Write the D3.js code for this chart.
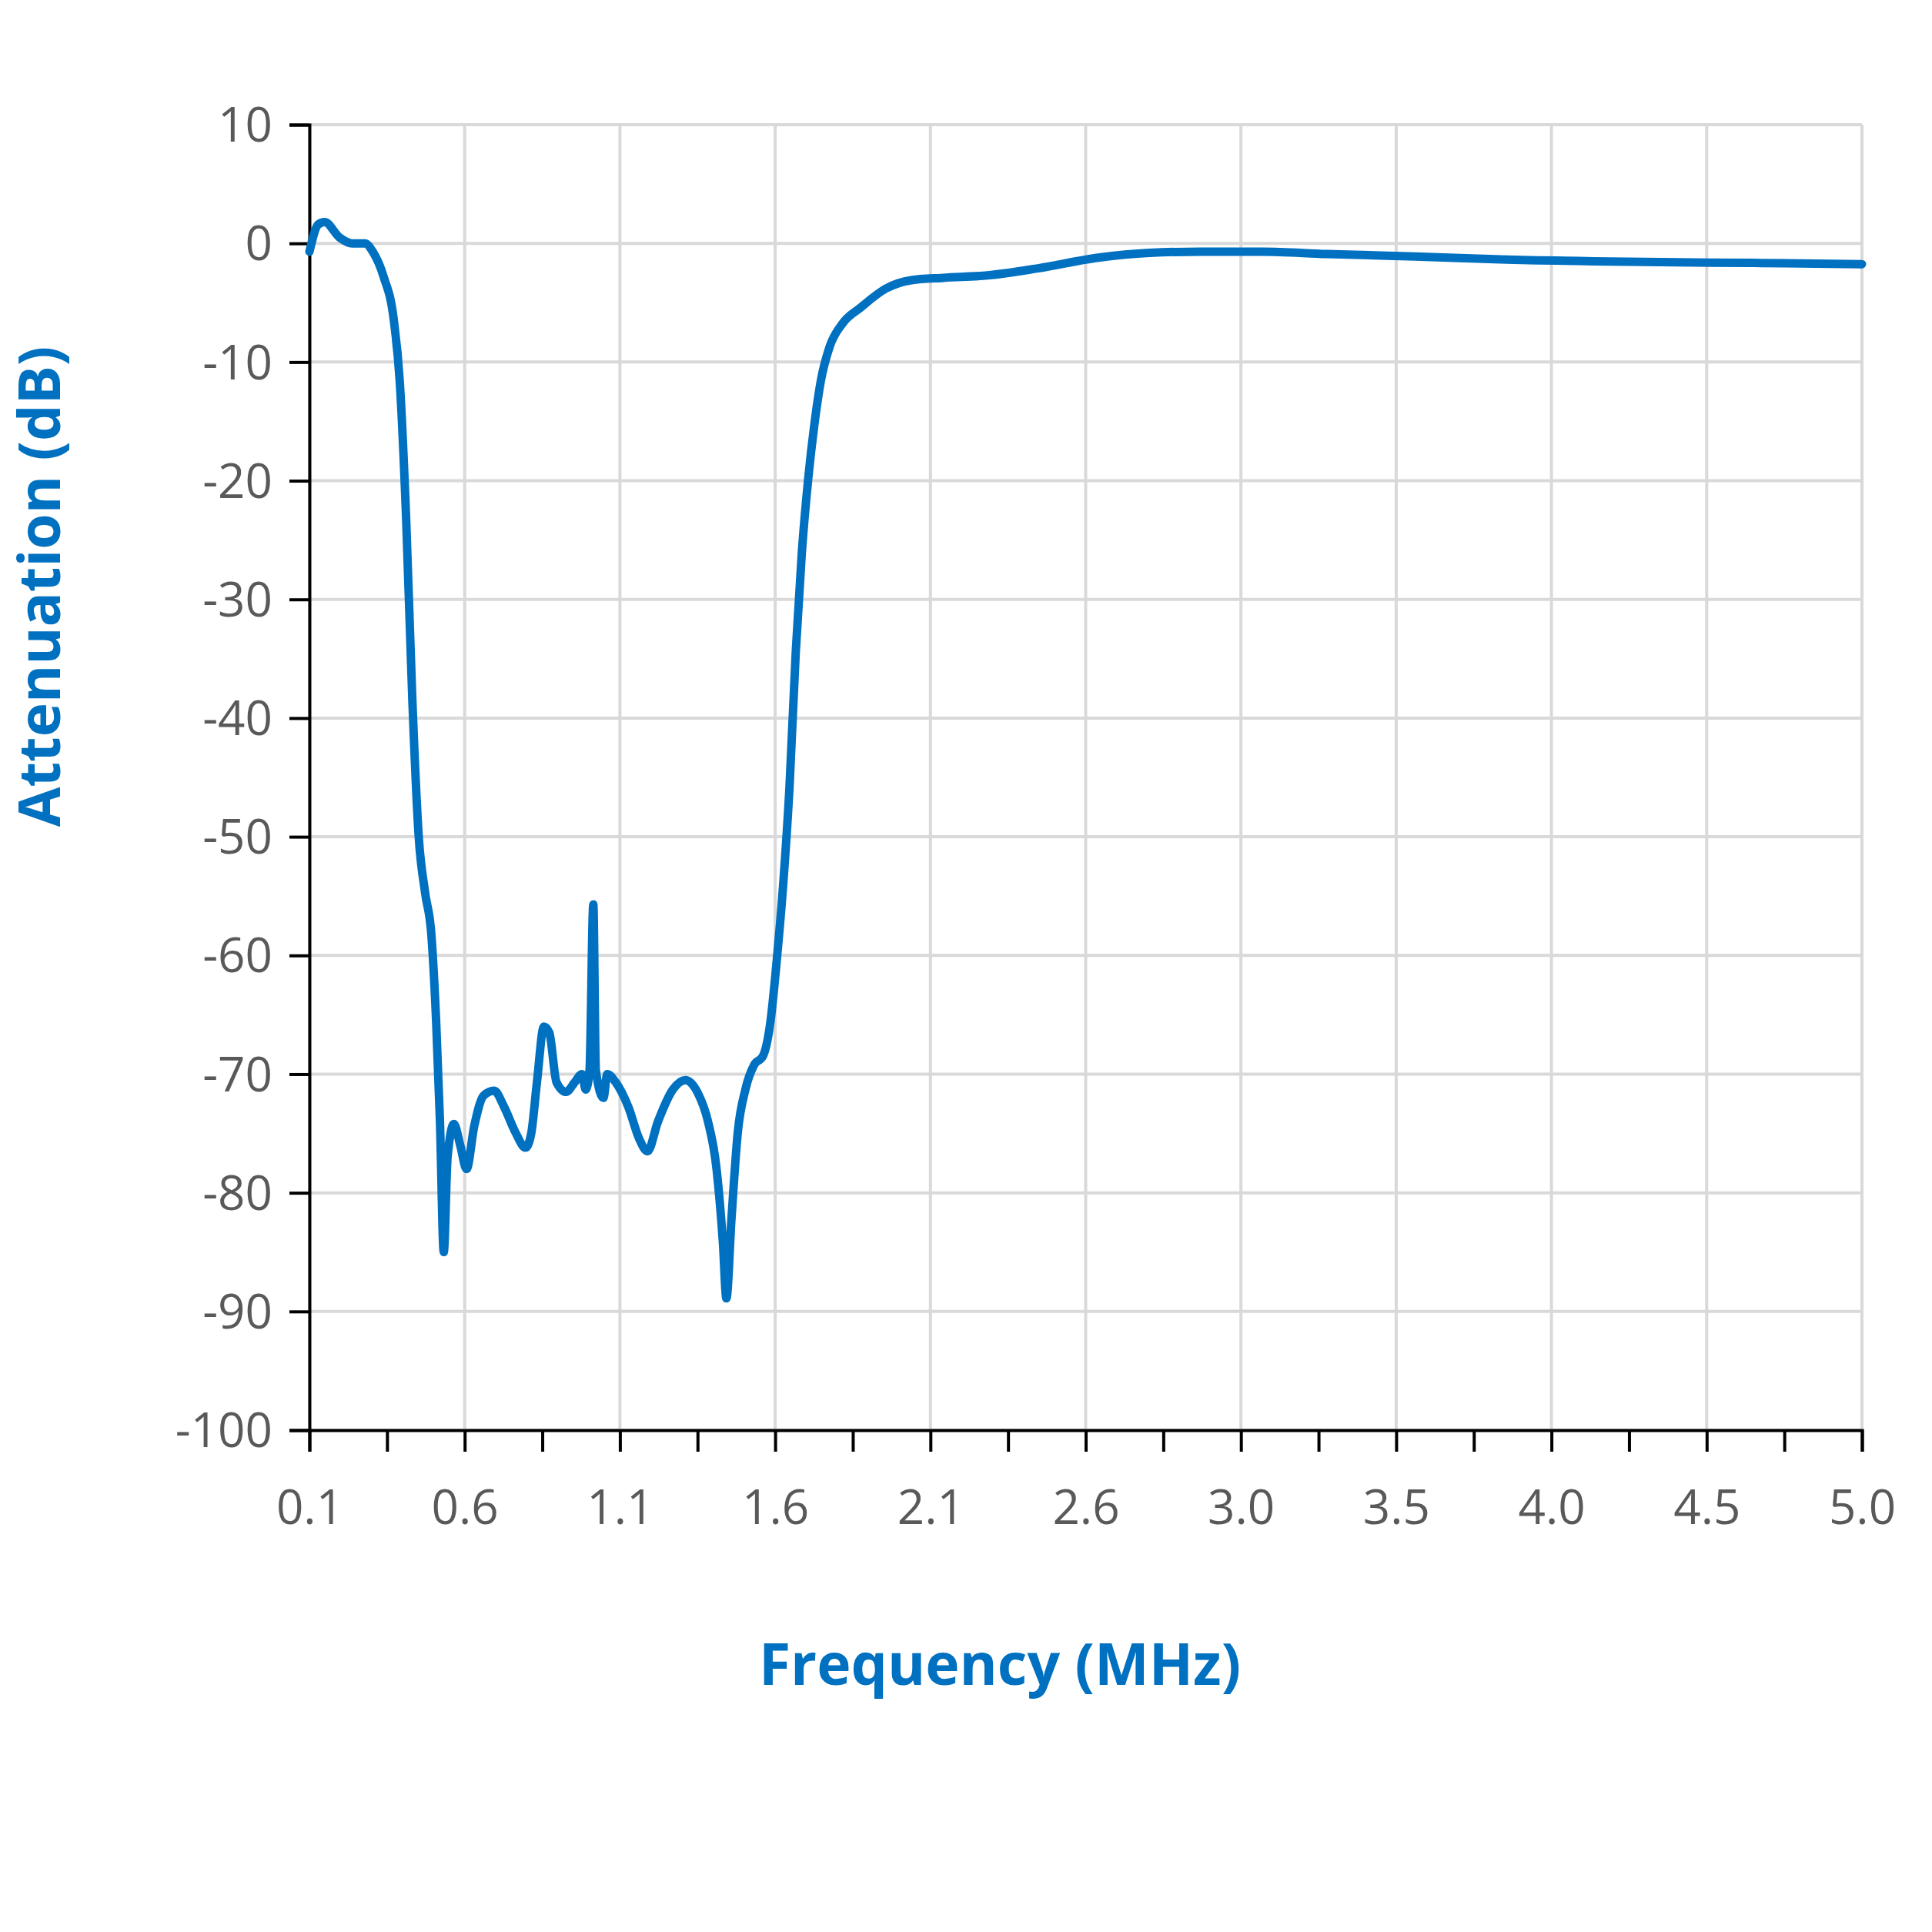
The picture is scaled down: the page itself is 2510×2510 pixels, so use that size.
<!DOCTYPE html>
<html>
<head>
<meta charset="utf-8">
<script src="https://cdn.jsdelivr.net/npm/d3@7"></script>
<style>
  body { margin: 0; background: #fff; }
  text { font-family: "Open Sans", "Noto Sans", sans-serif; }
</style>
</head>
<body>
<div id="chart"></div>
<script>
// step 0 the data
const freq = [0.1, 0.128, 0.148, 0.195, 0.235, 0.275, 0.30, 0.334, 0.366, 0.385, 0.405, 0.425, 0.445, 0.465, 0.485,
  0.50, 0.512, 0.524, 0.536, 0.556, 0.576, 0.596, 0.62, 0.65, 0.683, 0.715, 0.75, 0.782, 0.80, 0.818, 0.84, 0.857,
  0.88, 0.91, 0.937, 0.96, 0.972, 0.984, 0.996, 1.004, 1.028, 1.04, 1.067, 1.107, 1.14, 1.167, 1.2, 1.247, 1.286,
  1.326, 1.357, 1.385, 1.405, 1.416, 1.432, 1.452, 1.476, 1.504, 1.531, 1.555, 1.575, 1.595, 1.615, 1.635, 1.654,
  1.674, 1.694, 1.714, 1.742, 1.781, 1.84, 1.92, 2.0, 2.1, 2.24, 2.4, 2.59, 2.75, 2.91, 3.11, 3.31, 3.59, 3.86,
  4.26, 4.66, 5.0];
const atten = [-0.7, 1.6, 1.8, 0.5, 0, 0, -0.7, -2.8, -6.4, -11.6, -23, -38.6, -50, -54.7, -58.3,
  -65.6, -74, -85, -77, -74.2, -76, -78, -74.4, -71.8, -71.4, -72.8, -74.9, -76.2, -75, -70.7, -66, -66.5,
  -70.7, -71.5, -70.7, -70, -71.3, -69.7, -55.7, -69.7, -72, -70, -70.7, -72.8, -75.4, -76.5, -74, -71.3, -70.5,
  -71.6, -73.9, -78, -84.2, -88.9, -82.2, -74.9, -71.3, -69.2, -68.5, -65.6, -60.4, -54.1, -45.9, -34.4, -26.1,
  -19.9, -15.2, -11.6, -8.7, -6.8, -5.4, -3.8, -3.1, -2.9, -2.7, -2.1, -1.2, -0.8, -0.7, -0.7, -0.9, -1.1, -1.35,
  -1.55, -1.65, -1.75];
const xTickLabels = ["0.1", "0.6", "1.1", "1.6", "2.1", "2.6", "3.0", "3.5", "4.0", "4.5", "5.0"];
const yTicks = [10, 0, -10, -20, -30, -40, -50, -60, -70, -80, -90, -100];

// step 1 svg and margins
const W = 2510, H = 2510;
const margin = { top: 162, right: 91, bottom: 652, left: 402 };
const width = W - margin.left - margin.right,
  height = H - margin.top - margin.bottom;

const svg = d3.select("#chart").append("svg")
  .attr("width", W).attr("height", H)
  .append("g")
  .attr("transform", "translate(" + margin.left + "," + margin.top + ")");

// step 2 scales (ticks are evenly spaced, labelled as in the original)
const xScale = d3.scaleLinear().domain([0.1, 5.0]).range([0, width]);
const xPos = d3.scaleLinear().domain([0, 10]).range([0, width]);
const yScale = d3.scaleLinear().domain([-100, 10]).range([height, 0]);

// grid
svg.append("g").selectAll("line").data(yTicks).enter().append("line")
  .attr("x1", 0).attr("x2", width)
  .attr("y1", d => yScale(d)).attr("y2", d => yScale(d))
  .attr("stroke", "#d9d9d9").attr("stroke-width", 4);
svg.append("g").selectAll("line").data(xTickLabels).enter().append("line")
  .attr("x1", (d, i) => xPos(i)).attr("x2", (d, i) => xPos(i))
  .attr("y1", 0).attr("y2", height)
  .attr("stroke", "#d9d9d9").attr("stroke-width", 4);

// step 3 axes
const yAxis = d3.axisLeft(yScale).tickValues(yTicks).tickSize(26).tickPadding(22)
  .tickFormat(d => String(d));
const gy = svg.append("g").call(yAxis);
gy.select(".domain").attr("stroke", "#000").attr("stroke-width", 4);
gy.selectAll(".tick line").attr("stroke", "#000").attr("stroke-width", 4);
gy.selectAll("text").attr("font-size", 62).attr("fill", "#595959").attr("dy", "0.35em");

const xAxis = d3.axisBottom(xPos).tickValues(d3.range(0, 10.01, 0.5)).tickSize(28).tickPadding(50)
  .tickFormat(d => Number.isInteger(d) ? xTickLabels[d] : "");
const gx = svg.append("g").attr("transform", "translate(0," + height + ")").call(xAxis);
gx.select(".domain").attr("stroke", "#000").attr("stroke-width", 4);
gx.selectAll(".tick line").attr("stroke", "#000").attr("stroke-width", 4);
gx.selectAll("text").attr("font-size", 62).attr("fill", "#595959");

// step 4 the line
const line = d3.line()
  .x((d, i) => xScale(freq[i]))
  .y(d => yScale(d))
  .curve(d3.curveMonotoneX);
svg.append("path").datum(atten)
  .attr("d", line)
  .attr("fill", "none")
  .attr("stroke", "#0070c0")
  .attr("stroke-width", 11)
  .attr("stroke-linejoin", "round")
  .attr("stroke-linecap", "round");

// step 5 axis titles
svg.append("text")
  .attr("x", 1299 - margin.left).attr("y", 2189 - margin.top)
  .attr("text-anchor", "middle")
  .attr("font-size", 75).attr("font-weight", "bold").attr("fill", "#0070c0")
  .text("Frequency (MHz)");
svg.append("text")
  .attr("transform", "translate(" + (78 - margin.left) + "," + (762 - margin.top) + ") rotate(-90)")
  .attr("text-anchor", "middle")
  .attr("font-size", 75).attr("font-weight", "bold").attr("fill", "#0070c0")
  .text("Attenuation (dB)");
</script>
</body>
</html>
